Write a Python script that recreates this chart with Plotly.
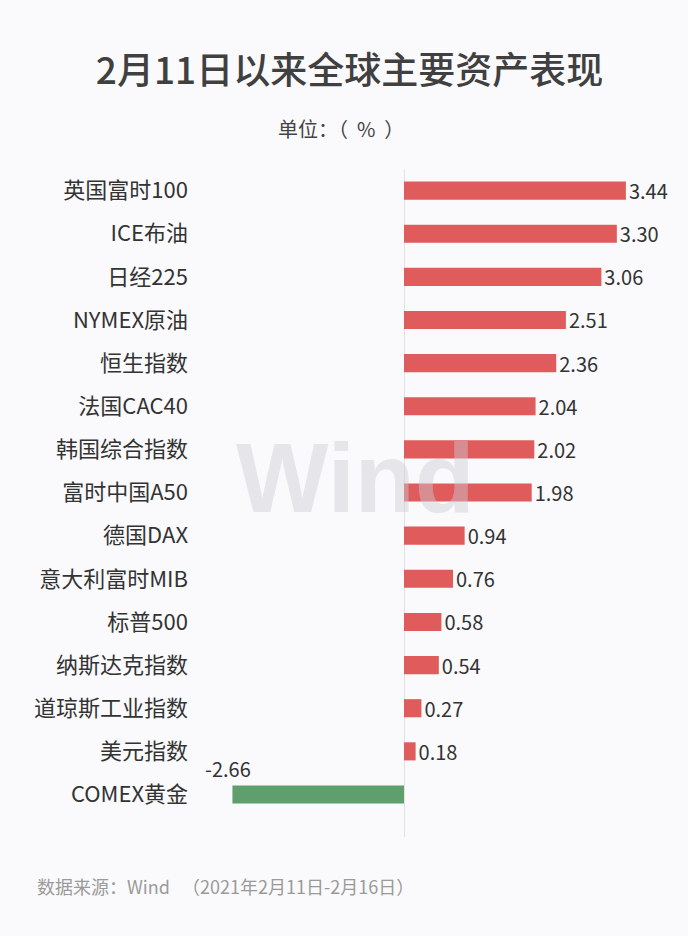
import plotly.graph_objects as go

categories = ["英国富时100", "ICE布油", "日经225", "NYMEX原油", "恒生指数", "法国CAC40",
              "韩国综合指数", "富时中国A50", "德国DAX", "意大利富时MIB", "标普500",
              "纳斯达克指数", "道琼斯工业指数", "美元指数", "COMEX黄金"]
values = [3.44, 3.30, 3.06, 2.51, 2.36, 2.04, 2.02, 1.98, 0.94, 0.76, 0.58, 0.54, 0.27, 0.18, -2.66]

title_text = "2月11日以来全球主要资产表现"
unit_text = "单位：（&nbsp;&nbsp;%&nbsp;&nbsp;）"
source_text = "数据来源：Wind&nbsp;&nbsp;&nbsp;（2021年2月11日-2月16日）"

RED = "#df5b5c"
GREEN = "#5f9e6d"
FONT = "Noto Sans CJK SC"

W, H = 688, 936
L, R, T, B = 200, 8, 169, 99
pw, ph = W - L - R, H - T - B

def px(xp):
    return (xp - L) / pw

def py(yp):
    return (H - B - yp) / ph

colors = [RED if v >= 0 else GREEN for v in values]
texts = [f"{v:.2f}" if v >= 0 else "" for v in values]

fig = go.Figure()
fig.add_trace(go.Bar(
    x=values, y=categories, orientation="h",
    marker=dict(color=colors, line=dict(width=0)),
    text=texts, textposition="outside", cliponaxis=False, constraintext="none",
    textfont=dict(family=FONT, size=20, color="#333333"),
    width=0.42, hoverinfo="skip",
))

neg_idx = [i for i, v in enumerate(values) if v < 0]
for i in neg_idx:
    fig.add_annotation(x=values[i], y=categories[i], text=f"{values[i]:.2f}",
                       showarrow=False, xanchor="center", yanchor="middle", yshift=26,
                       xshift=-4,
                       font=dict(family=FONT, size=20, color="#333333"))

fig.add_annotation(xref="paper", yref="paper", x=px(355), y=py(478), text="<b>Wind</b>",
                   xanchor="center", yanchor="middle",
                   showarrow=False, font=dict(family="Liberation Sans", size=98,
                                              color="rgba(205,205,212,0.45)"))

fig.add_annotation(xref="paper", yref="paper", x=px(341), y=py(129), text=unit_text,
                   showarrow=False, xanchor="center", yanchor="middle",
                   font=dict(family=FONT, size=20, color="#444444"))

fig.add_annotation(xref="paper", yref="paper", x=px(35), y=py(886), text=source_text,
                   showarrow=False, xanchor="left", yanchor="middle",
                   font=dict(family=FONT, size=18, color="#9a9a9a"))

fig.update_layout(
    width=W, height=H,
    margin=dict(l=L, r=R, t=T, b=B),
    paper_bgcolor="#fafafc", plot_bgcolor="rgba(0,0,0,0)",
    showlegend=False,
    title=dict(text=title_text, x=0.508, xanchor="center", y=1 - 71 / H, yanchor="middle",
               yref="container",
               font=dict(family=FONT, size=37, color="#404040", weight=500)),
    xaxis=dict(range=[-(404 - L) / 64.5, (W - R - 404) / 64.5], showgrid=False,
               showticklabels=False, zeroline=True, zerolinecolor="#e2e2e2",
               zerolinewidth=1, fixedrange=True),
    yaxis=dict(autorange="reversed", showgrid=False, ticks="", ticklabelstandoff=11,
               tickfont=dict(family=FONT, size=22, color="#333333"), fixedrange=True),
    bargap=0.58,
)

fig.write_html("out.html")
